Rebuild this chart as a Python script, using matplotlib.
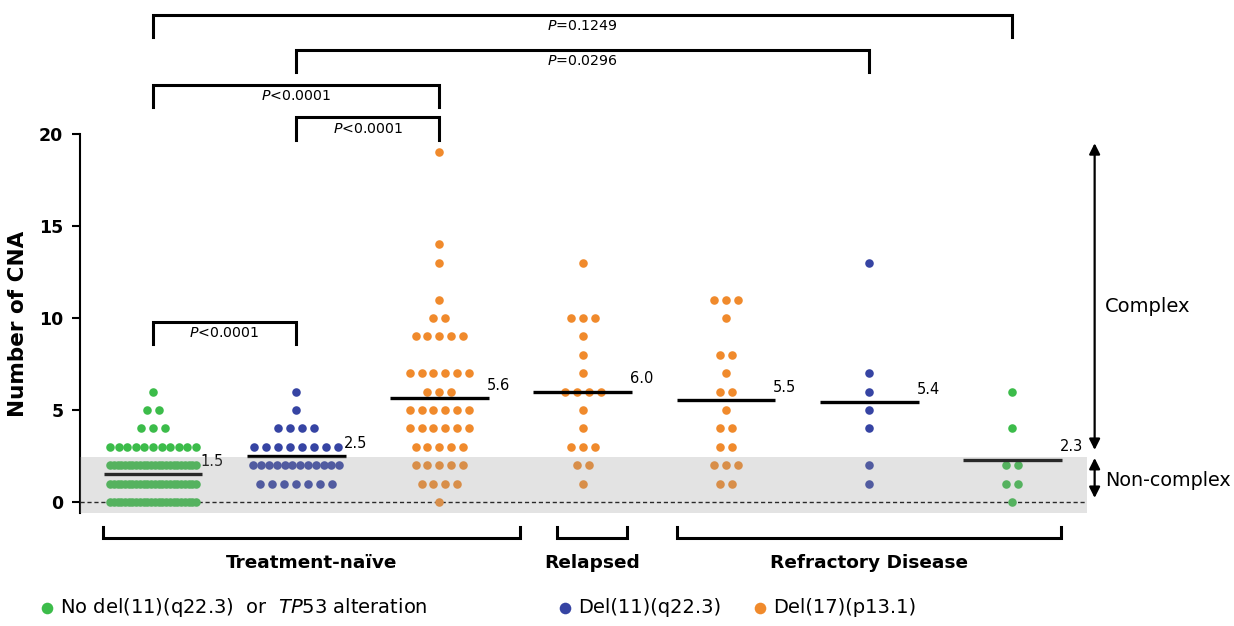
import matplotlib
matplotlib.use("Agg")
import matplotlib.pyplot as plt
import numpy as np

#CNA counts per group, stored as value -> number of patients
naive_none_vals = [0, 1, 2, 3, 4, 5, 6]
naive_none_n = [24, 24, 24, 11, 3, 2, 1]
naive_del11_vals = [1, 2, 3, 4, 5, 6]
naive_del11_n = [7, 12, 8, 4, 1, 1]
naive_del17_vals = [0, 1, 2, 3, 4, 5, 6, 7, 9, 10, 11, 13, 14, 19]
naive_del17_n = [1, 4, 5, 5, 6, 6, 3, 6, 5, 2, 1, 1, 1, 1]
relapsed_del17_vals = [1, 2, 3, 4, 5, 6, 7, 8, 9, 10, 13]
relapsed_del17_n = [1, 2, 3, 1, 1, 4, 1, 1, 1, 3, 1]
refr_del17_vals = [1, 2, 3, 4, 5, 6, 7, 8, 10, 11]
refr_del17_n = [2, 3, 2, 2, 1, 2, 1, 2, 1, 3]
refr_del11_vals = [1, 2, 4, 5, 6, 7, 13]
refr_del11_n = [1, 1, 1, 1, 1, 1, 1]
refr_none_vals = [0, 1, 2, 4, 6]
refr_none_n = [1, 2, 2, 1, 1]

groups = [(naive_none_vals, naive_none_n, "none"),
          (naive_del11_vals, naive_del11_n, "del11"),
          (naive_del17_vals, naive_del17_n, "del17"),
          (relapsed_del17_vals, relapsed_del17_n, "del17"),
          (refr_del17_vals, refr_del17_n, "del17"),
          (refr_del11_vals, refr_del11_n, "del11"),
          (refr_none_vals, refr_none_n, "none")]

colors = {"none": "#3cbc4a", "del11": "#3644a3", "del17": "#f08a2c"}
legend_labels = {"none": r"No del(11)(q22.3)  or  $\it{TP53}$ alteration",
                 "del11": "Del(11)(q22.3)",
                 "del17": "Del(17)(p13.1)"}

#significance brackets (group a, group b, text)
brackets = [(0, 6, r"$\it{P}$=0.1249"),
            (1, 5, r"$\it{P}$=0.0296"),
            (0, 2, r"$\it{P}$<0.0001"),
            (1, 2, r"$\it{P}$<0.0001"),
            (0, 1, r"$\it{P}$<0.0001")]
bracket_top = [26.45, 24.55, 22.65, 20.9, 9.8]

disease_states = ["Treatment-naïve", "Relapsed", "Refractory Disease"]
state_spans = [(-0.35, 2.56), (2.82, 3.31), (3.66, 6.34)]

fig = plt.figure(figsize=(12.34, 6.26), dpi=100)
ax = fig.add_axes([0.0648, 0.1805, 0.816, 0.6054])

#dots, centred rows like a prism scatter plot
step = 0.0837
maxw = 0.6
for i, (vals, ns, kind) in enumerate(groups):
    for v, n in zip(vals, ns):
        sp = step if n < 2 else min(step, maxw / (n - 1))
        xs = i + (np.arange(n) - (n - 1) / 2.0) * sp
        ax.scatter(xs, [v] * n, s=38, color=colors[kind], lw=0, zorder=3)
    allv = np.repeat(vals, ns)
    m = allv.mean()
    ax.plot([i - 0.345, i + 0.345], [m, m], color="black", lw=2.4, zorder=4,
            solid_capstyle="butt")
    ax.text(i + 0.33, m + 0.3, "%.1f" % m, fontsize=10.5, ha="left", va="bottom")

#non-complex band and zero line
ax.axhspan(-0.6, 2.45, color="#9a9a9a", alpha=0.27, lw=0, zorder=5)
ax.axhline(0, color="black", lw=1, ls=(0, (3, 2)), zorder=2)

ax.set_xlim(-0.51, 6.52)
ax.set_ylim(-0.6, 20)
ax.set_yticks([0, 5, 10, 15, 20])
ax.tick_params(axis="y", length=6, width=1.5, labelsize=12.5, pad=6)
plt.setp(ax.get_yticklabels(), fontweight="bold")
ax.set_xticks([])
for s in ["top", "right", "bottom"]:
    ax.spines[s].set_visible(False)
ax.spines["left"].set_linewidth(1.5)
ax.spines["left"].set_bounds(-0.6, 20)
ax.set_ylabel("Number of CNA", fontsize=15.5, fontweight="bold")
ax.yaxis.set_label_coords(-0.052, 0.5)

#p value brackets
for (a, b, txt), top in zip(brackets, bracket_top):
    ax.plot([a, a, b, b], [top - 1.2, top, top, top - 1.2], color="black",
            lw=2.2, clip_on=False, solid_joinstyle="miter")
    ax.text((a + b) / 2.0, top - 0.6, txt, fontsize=10.2, ha="center", va="center")

#disease state brackets along the bottom
for name, (x0, x1) in zip(disease_states, state_spans):
    ax.plot([x0, x0, x1, x1], [-1.35, -1.95, -1.95, -1.35], color="black",
            lw=2.2, clip_on=False, solid_joinstyle="miter")
    ax.text((x0 + x1) / 2.0, -3.3, name, fontsize=13.3, fontweight="bold",
            ha="center", va="center")

#complex / non-complex arrows
ax.annotate("", xy=(6.574, 19.5), xytext=(6.574, 2.83), annotation_clip=False,
            arrowprops=dict(arrowstyle="<|-|>", color="black", lw=1.6,
                            mutation_scale=16, shrinkA=0, shrinkB=0))
ax.annotate("", xy=(6.574, 2.39), xytext=(6.574, 0.22), annotation_clip=False,
            arrowprops=dict(arrowstyle="<|-|>", color="black", lw=1.6,
                            mutation_scale=16, shrinkA=0, shrinkB=0))
ax.text(6.644, 10.6, "Complex", fontsize=14, ha="left", va="center")
ax.text(6.644, 1.14, "Non-complex", fontsize=13.8, ha="left", va="center")

#legend drawn by hand so the entries sit where the original has them
leg_x = [-0.74, 2.875, 4.236]
for x, kind in zip(leg_x, ["none", "del11", "del17"]):
    ax.scatter([x], [-5.76], s=70, color=colors[kind], lw=0, clip_on=False)
    ax.text(x + 0.09, -5.76, legend_labels[kind], fontsize=14, ha="left",
            va="center")

fig.savefig("out.png", dpi=100)
